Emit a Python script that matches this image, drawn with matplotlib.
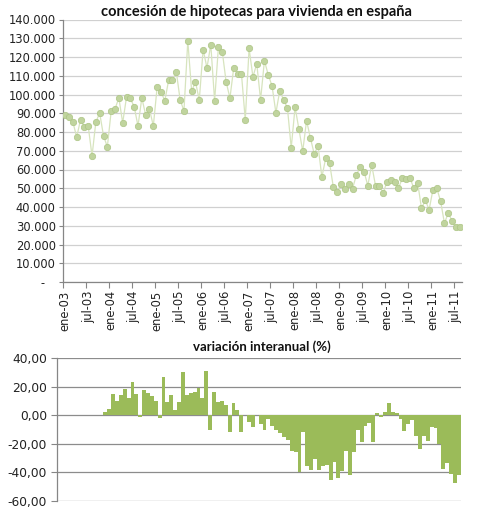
import matplotlib
matplotlib.use("Agg")
import matplotlib.pyplot as plt
import numpy as np
from matplotlib.ticker import FixedLocator, FuncFormatter

# ---- data ----
months = ["ene", "feb", "mar", "abr", "may", "jun", "jul", "ago", "sep", "oct", "nov", "dic"]
categories = [f"{months[m]}-{y:02d}" for y in range(3, 12) for m in range(12)][:104]

hipotecas = [
    89.0, 88.0, 85.3, 77.3, 86.6, 82.7, 83.2, 67.2, 85.4, 90.1, 77.9, 72.1,
    91.2, 92.3, 98.2, 84.9, 98.6, 97.9, 93.5, 83.2, 98.2, 89.1, 92.2, 83.2,
    104.0, 101.5, 96.6, 107.7, 107.8, 112.2, 97.1, 91.3, 128.6, 101.8, 106.7, 97.1,
    124.0, 114.2, 126.6, 96.6, 125.5, 122.9, 106.8, 98.1, 114.4, 111.2, 111.2, 86.5,
    124.6, 109.4, 116.4, 97.2, 118.0, 110.5, 104.5, 90.2, 102.0, 97.1, 92.9, 71.5,
    93.3, 81.6, 69.8, 86.0, 76.9, 68.3, 72.6, 55.9, 66.1, 63.5, 50.5, 48.0,
    52.3, 49.8, 52.3, 49.8, 57.0, 61.4, 58.9, 51.4, 62.5, 51.4, 51.4, 47.5,
    53.4, 54.5, 53.4, 50.0, 55.4, 55.0, 55.5, 50.0, 53.0, 39.3, 43.6, 38.6,
    49.3, 50.0, 43.0, 31.3, 37.0, 32.3, 29.3, 29.1,
]
hipotecas = [v * 1000 for v in hipotecas]

variacion = [None] * 12 + [
    2.3, 4.6, 15.0, 10.0, 14.2, 18.5, 12.4, 23.5, 15.0, -1.4, 17.9, 15.7,
    13.7, 10.0, -1.6, 27.0, 9.3, 14.4, 3.7, 9.5, 30.7, 14.2, 15.6, 16.5,
    19.3, 12.5, 31.2, -10.2, 16.5, 9.6, 10.1, 7.3, -11.3, 8.8, 3.8, -11.3,
    0.6, -4.5, -8.3, 0.6, -6.0, -9.9, -2.4, -7.5, -10.5, -12.5, -15.5, -17.2,
    -25.0, -25.4, -40.0, -11.8, -35.5, -38.3, -30.8, -38.2, -35.2, -34.8, -45.3, -33.0,
    -44.0, -39.0, -25.3, -41.8, -25.7, -10.2, -18.7, -7.5, -5.5, -18.8, 1.7, -1.0,
    2.1, 8.7, 2.1, 1.5, -2.5, -10.6, -6.3, -3.3, -14.8, -23.8, -14.8, -17.8,
    -8.0, -8.5, -19.8, -37.8, -33.1, -41.4, -47.1, -41.9,
]

title_top = "concesión de hipotecas para vivienda en españa"
title_bottom = "variación interanual (%)"

# ---- figure ----
W, H = 484, 519
fig = plt.figure(figsize=(W / 100, H / 100), dpi=100)
plt.rcParams['font.family'] = ['DejaVu Sans']
txt_color = '#222222'
tick_fs = 8.3

def fx(px):
    return px / W

def fy(py):
    return 1 - py / H

# Top axes
ax1 = fig.add_axes([fx(63.3), fy(282), fx(461.7) - fx(63.3), fy(19.5) - fy(282)])
x = np.arange(len(hipotecas))
ax1.plot(x, hipotecas, color='#d7e4be', lw=0.9, marker='o', markersize=4.6,
         markerfacecolor='#c0d49e', markeredgecolor='#adc585', markeredgewidth=0.5,
         zorder=3)
ax1.set_xlim(-0.5, len(hipotecas) - 0.5)
ax1.set_ylim(0, 140000)
ax1.yaxis.set_major_locator(FixedLocator(np.arange(0, 140001, 10000)))

def fmt_thousands(v, pos):
    if abs(v) < 1e-6:
        return "-   "
    return f"{int(round(v)):,}".replace(",", ".")

ax1.yaxis.set_major_formatter(FuncFormatter(fmt_thousands))
ax1.grid(axis='y', color='#d0d0d0', lw=0.9)
ax1.set_axisbelow(True)
for s in ['top', 'right']:
    ax1.spines[s].set_visible(False)
for s in ['left', 'bottom']:
    ax1.spines[s].set_color('#868686')
    ax1.spines[s].set_linewidth(0.9)
ax1.tick_params(axis='y', length=3, width=0.8, color='#868686', pad=2.5,
                labelsize=tick_fs, labelcolor=txt_color)
label_idx = list(range(0, len(hipotecas), 6))
ax1.set_xticks(label_idx)
ax1.set_xticklabels([categories[i] for i in label_idx], rotation=90,
                    fontsize=tick_fs, color=txt_color)
ax1.tick_params(axis='x', which='major', length=0, pad=6)
ax1.set_xticks([i - 0.5 for i in label_idx], minor=True)
ax1.tick_params(axis='x', which='minor', length=4, width=0.8, color='#868686')
fig.text(fx(256), fy(12), title_top, ha='center', va='center',
         fontsize=10.5, fontweight='bold', color='#111111', family=['Lato', 'DejaVu Sans'])

# Bottom axes
ax2 = fig.add_axes([fx(56.7), fy(501), fx(460.7) - fx(56.7), fy(358.3) - fy(501)])
bx = [i for i, v in enumerate(variacion) if v is not None]
bv = [v for v in variacion if v is not None]
ax2.bar(bx, bv, width=1.0, color='#9bbb59', edgecolor='none', zorder=3)
ax2.set_xlim(-0.5, len(variacion) - 0.5)
ax2.set_ylim(-60, 40)
ax2.yaxis.set_major_locator(FixedLocator(np.arange(-60, 41, 20)))
ax2.yaxis.set_major_formatter(FuncFormatter(lambda v, p: f"{v:.2f}".replace(".", ",")))
ax2.grid(axis='y', color='#8c8c8c', lw=0.9)
ax2.set_axisbelow(True)
for s in ['top', 'right', 'bottom']:
    ax2.spines[s].set_visible(False)
ax2.spines['left'].set_color('#868686')
ax2.spines['left'].set_linewidth(0.9)
ax2.set_xticks([])
ax2.tick_params(axis='y', length=4, width=0.8, color='#868686', pad=3,
                labelsize=8.8, labelcolor=txt_color)
fig.text(fx(261.5), fy(347), title_bottom, ha='center', va='center',
         fontsize=9.5, fontweight='bold', color='#111111', family=['Lato', 'DejaVu Sans'])

fig.savefig("out.png", dpi=100, facecolor='white')
